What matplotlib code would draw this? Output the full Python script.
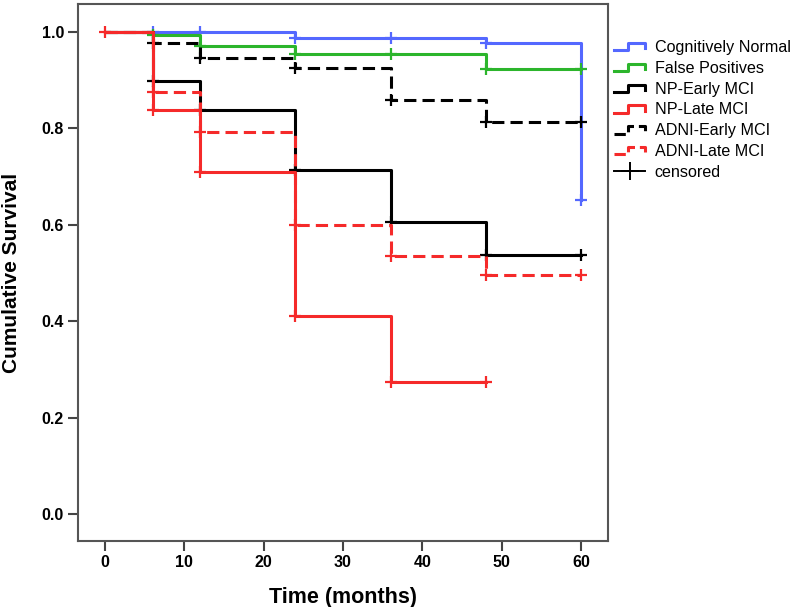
import numpy as np
import matplotlib
matplotlib.use("Agg")
import matplotlib.pyplot as plt
from matplotlib.lines import Line2D
from matplotlib.legend_handler import HandlerBase

plt.rcParams['font.family'] = ['Liberation Sans', 'DejaVu Sans']

# Kaplan-Meier steps (time in months, survival after the step)
groups = ["Cognitively Normal", "False Positives", "NP-Early MCI",
          "NP-Late MCI", "ADNI-Early MCI", "ADNI-Late MCI"]

cn_t = [0, 24, 48, 60]
cn_s = [1.0, 0.988, 0.978, 0.651]
cn_c = [6, 12, 24, 36, 48, 60]

fp_t = [0, 6, 12, 24, 48, 60]
fp_s = [1.0, 0.994, 0.970, 0.955, 0.923, 0.923]
fp_c = [6, 12, 24, 36, 48, 60]

npe_t = [0, 6, 12, 24, 36, 48, 60]
npe_s = [1.0, 0.899, 0.838, 0.714, 0.605, 0.538, 0.538]
npe_c = [6, 12, 24, 36, 48, 60]

npl_t = [0, 6, 12, 24, 36, 48]
npl_s = [1.0, 0.838, 0.710, 0.411, 0.273, 0.273]
npl_c = [0, 6, 12, 24, 36, 48]

ade_t = [0, 6, 12, 24, 36, 48, 60]
ade_s = [1.0, 0.977, 0.945, 0.925, 0.859, 0.813, 0.813]
ade_c = [6, 12, 24, 36, 48, 60]

adl_t = [0, 6, 12, 24, 36, 48, 60]
adl_s = [1.0, 0.876, 0.793, 0.599, 0.535, 0.495, 0.495]
adl_c = [6, 12, 24, 36, 48, 60]

series = [
    (cn_t, cn_s, cn_c, '#5468ff', '-'),
    (fp_t, fp_s, fp_c, '#2cb52c', '-'),
    (npe_t, npe_s, npe_c, 'black', '-'),
    (ade_t, ade_s, ade_c, 'black', (0, (4, 2))),
    (adl_t, adl_s, adl_c, '#f52a2a', (0, (4, 2))),
    (npl_t, npl_s, npl_c, '#f52a2a', '-'),
]
labels = [groups[0], groups[1], groups[2], groups[4], groups[5], groups[3]]

fig = plt.figure(figsize=(8, 6.07), dpi=100)
ax = fig.add_axes([0.0975, 0.1087, 0.6625, 0.8847])

for t, s, c, col, ls in series:
    ax.step(t, s, where='post', color=col, lw=2.2, linestyle=ls)
    cs = [s[np.searchsorted(t, ci, side='right') - 1] for ci in c]
    ax.plot(c, cs, linestyle='none', marker='+', ms=9, mew=1.6, color=col)

ax.set_xlim(-3.4, 63.4)
ax.set_ylim(-0.056, 1.058)
ax.set_xticks([0, 10, 20, 30, 40, 50, 60])
ax.set_yticks([0.0, 0.2, 0.4, 0.6, 0.8, 1.0])
ax.set_yticklabels(['0.0', '0.2', '0.4', '0.6', '0.8', '1.0'])
for sp in ax.spines.values():
    sp.set_color('#555555')
    sp.set_linewidth(1.5)
ax.tick_params(length=7, width=1.5, color='#444444', labelsize=11.5, pad=3)
for lab in ax.get_xticklabels() + ax.get_yticklabels():
    lab.set_fontweight('bold')
ax.set_xlabel('Time (months)', fontsize=15.5, fontweight='bold', labelpad=12)
ax.set_ylabel('Cumulative Survival', fontsize=15, fontweight='bold')
ax.yaxis.set_label_coords(-0.108, 0.5)


class StepHandler(HandlerBase):
    def create_artists(self, legend, orig, xd, yd, w, h, fontsize, trans):
        if orig.get_marker() == '+':
            ln = Line2D([-xd, -xd + w], [h / 2 - yd] * 2, color='black', lw=1.4,
                        transform=trans)
            mk = Line2D([-xd + w / 2], [h / 2 - yd], marker='+', ms=13, mew=1.4,
                        color='black', linestyle='none', transform=trans)
            return [ln, mk]
        x0 = -xd
        lo = -yd + h * 0.15
        hi = -yd + h * 0.8
        xs = [x0, x0 + w * 0.45, x0 + w * 0.45, x0 + w, x0 + w]
        ys = [lo, lo, hi, hi, lo + h * 0.2]
        ln = Line2D(xs, ys, color=orig.get_color(), lw=2.2,
                    linestyle=orig.get_linestyle(), transform=trans)
        return [ln]


handles = []
order = [0, 1, 2, 5, 3, 4]
for i in order:
    t, s, c, col, ls = series[i]
    handles.append(Line2D([], [], color=col, linestyle=ls if ls == '-' else '--'))
handles.append(Line2D([], [], color='black', marker='+', linestyle='-'))
leg_labels = [labels[i] for i in order] + ['censored']

fig.legend(handles, leg_labels, handler_map={Line2D: StepHandler()},
           loc='upper left', bbox_to_anchor=(0.768, 0.934), frameon=False,
           handlelength=1.9, handletextpad=0.6, labelspacing=0.36,
           borderpad=0, borderaxespad=0, prop={'size': 11.6})

fig.savefig('out.png', dpi=100)
